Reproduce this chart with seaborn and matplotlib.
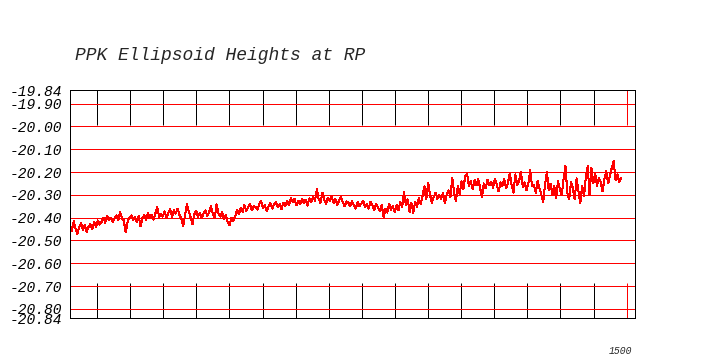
import numpy as np
import pandas as pd
import matplotlib
matplotlib.use("Agg")
import matplotlib.pyplot as plt
import matplotlib.transforms as mtransforms
import seaborn as sns

# ---- data (ellipsoid heights in metres, one sample every 5 epochs) ----
heights_seg1 = [-20.430, -20.460, -20.415, -20.450, -20.472, -20.440, -20.425, -20.452, -20.432, -20.462,
                -20.440, -20.428, -20.450, -20.418, -20.440, -20.412, -20.430, -20.418, -20.400, -20.422,
                -20.392, -20.412, -20.400, -20.420, -20.402, -20.390, -20.410, -20.377, -20.402, -20.412,
                -20.465, -20.420, -20.400, -20.390, -20.410, -20.398, -20.420, -20.392, -20.437, -20.402,
                -20.388, -20.410, -20.380, -20.400, -20.388, -20.408, -20.382, -20.355, -20.395, -20.385]
heights_seg2 = [-20.395, -20.372, -20.400, -20.380, -20.362, -20.395, -20.368, -20.382, -20.360, -20.388,
                -20.405, -20.437, -20.390, -20.342, -20.372, -20.398, -20.430, -20.385, -20.370, -20.395,
                -20.378, -20.400, -20.382, -20.368, -20.392, -20.375, -20.350, -20.385, -20.400, -20.342,
                -20.380, -20.395, -20.375, -20.405, -20.390, -20.420, -20.432, -20.400, -20.415, -20.395,
                -20.365, -20.385, -20.358, -20.375, -20.345, -20.372, -20.355, -20.340, -20.368, -20.350]
heights_seg3 = [-20.352, -20.365, -20.340, -20.327, -20.358, -20.345, -20.370, -20.350, -20.335, -20.360,
                -20.342, -20.330, -20.355, -20.340, -20.362, -20.335, -20.350, -20.328, -20.345, -20.315,
                -20.332, -20.318, -20.345, -20.325, -20.340, -20.318, -20.335, -20.322, -20.348, -20.315,
                -20.330, -20.310, -20.325, -20.276, -20.318, -20.335, -20.290, -20.322, -20.340, -20.312,
                -20.328, -20.305, -20.335, -20.318, -20.345, -20.325, -20.310, -20.332, -20.350, -20.328]
heights_seg4 = [-20.335, -20.350, -20.328, -20.345, -20.360, -20.332, -20.350, -20.338, -20.325, -20.355,
                -20.342, -20.360, -20.330, -20.348, -20.365, -20.338, -20.355, -20.372, -20.345, -20.397,
                -20.360, -20.378, -20.340, -20.365, -20.350, -20.375, -20.345, -20.368, -20.330, -20.352,
                -20.288, -20.345, -20.320, -20.375, -20.335, -20.380, -20.330, -20.352, -20.315, -20.340,
                -20.305, -20.262, -20.320, -20.246, -20.300, -20.335, -20.310, -20.290, -20.318, -20.300]
heights_seg5 = [-20.318, -20.290, -20.335, -20.300, -20.280, -20.310, -20.225, -20.290, -20.327, -20.260,
                -20.295, -20.240, -20.275, -20.215, -20.208, -20.262, -20.240, -20.275, -20.235, -20.258,
                -20.230, -20.270, -20.310, -20.250, -20.272, -20.235, -20.258, -20.242, -20.268, -20.230,
                -20.255, -20.285, -20.245, -20.262, -20.230, -20.270, -20.248, -20.205, -20.258, -20.290,
                -20.210, -20.255, -20.240, -20.200, -20.265, -20.245, -20.280, -20.252, -20.192, -20.262]
heights_seg6 = [-20.255, -20.290, -20.240, -20.270, -20.300, -20.330, -20.255, -20.200, -20.280, -20.250,
                -20.300, -20.262, -20.315, -20.240, -20.275, -20.300, -20.230, -20.172, -20.290, -20.320,
                -20.245, -20.270, -20.320, -20.228, -20.285, -20.335, -20.260, -20.305, -20.220, -20.175,
                -20.300, -20.182, -20.250, -20.205, -20.260, -20.225, -20.245, -20.285, -20.230, -20.195,
                -20.250, -20.215, -20.180, -20.152, -20.235, -20.210, -20.245, -20.225]
epoch_step = 5

ytick_values = [-19.84, -19.90, -20.00, -20.10, -20.20, -20.30, -20.40,
                -20.50, -20.60, -20.70, -20.80, -20.84]
ytick_labels = ["-19.84", "-19.90", "-20.00", "-20.10", "-20.20", "-20.30", "-20.40",
                "-20.50", "-20.60", "-20.70", "-20.80", "-20.84"]
x_label_value = 1500
title_text = "PPK Ellipsoid Heights at RP"

heights = heights_seg1 + heights_seg2 + heights_seg3 + heights_seg4 + heights_seg5 + heights_seg6
df = pd.DataFrame({"epoch": np.arange(len(heights)) * epoch_step, "height": heights})

# ---- figure ----
sns.set_theme(style="white")
mono = ["Liberation Mono", "DejaVu Sans Mono"]
plt.rcParams["font.family"] = mono

fig = plt.figure(figsize=(7.06, 3.56), dpi=100)
ax = fig.add_axes([70 / 706, 38 / 356, 565.3 / 706, 228 / 356])

sns.lineplot(data=df, x="epoch", y="height", color="#ff0000", linewidth=0.75,
             ax=ax, antialiased=False, zorder=3)

ax.set_xlim(0, 1523.2)
ax.set_ylim(-20.84, -19.84)

# y axis
ax.set_yticks(ytick_values)
ax.set_yticklabels(ytick_labels, fontstyle="italic", fontsize=10.5, family=mono, color="black")
ax.tick_params(axis="y", length=0, pad=5.5)
ax.yaxis.grid(True, color="#ff0000", linewidth=0.72, antialiased=False)
ax.xaxis.grid(False)

# x axis: long inward black ticks on top and bottom, a red one at 1500
tick_spacing = (x_label_value - 73) / 16
major_x = [73 + k * tick_spacing for k in range(16)]
ax.set_xticks(major_x)
ax.set_xticklabels([""] * len(major_x))
ax.set_xticks([x_label_value], minor=True)
ax.set_xticklabels([str(x_label_value)], minor=True, fontstyle="italic", fontsize=7, family=mono)
ax.tick_params(axis="x", which="major", direction="in", length=25, width=0.72, color="black",
               top=True, bottom=True)
ax.tick_params(axis="x", which="minor", direction="in", length=25, width=0.72, color="#ff0000",
               top=True, bottom=True, pad=20)
offset = mtransforms.ScaledTranslation(-6 / 100, 0, fig.dpi_scale_trans)
for lab in ax.get_xticklabels(minor=True):
    lab.set_transform(lab.get_transform() + offset)

ax.set_xlabel("")
ax.set_ylabel("")
for s in ax.spines.values():
    s.set_visible(True)
    s.set_color("black")
    s.set_linewidth(0.72)
    s.set_zorder(5)
    s.set_antialiased(False)

fig.text(75 / 706, 1 - 59.5 / 356, title_text, fontsize=13, fontstyle="italic",
         family=mono, ha="left", va="baseline")

fig.savefig("out.png", dpi=100, facecolor="white")
